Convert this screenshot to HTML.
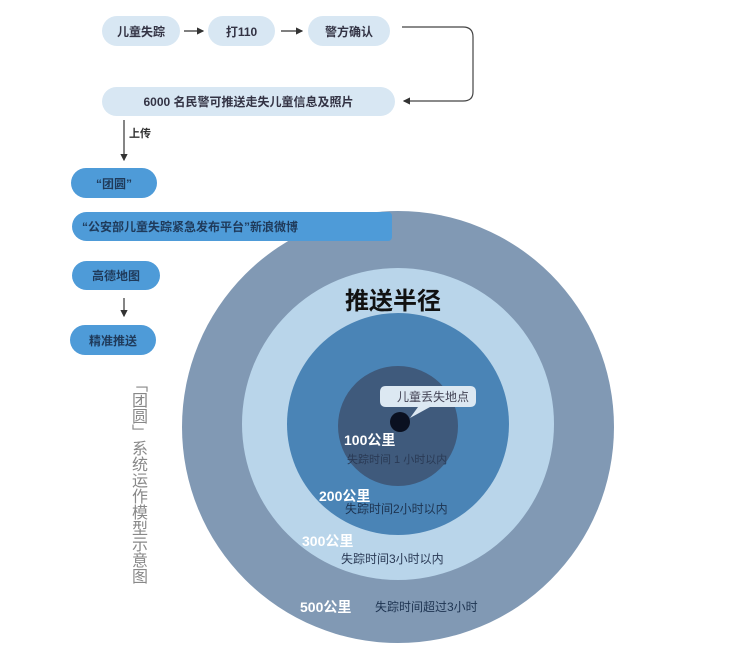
<!DOCTYPE html>
<html><head><meta charset="utf-8"><style>
body{margin:0;width:732px;height:648px;background:#fff;position:relative;overflow:hidden;font-family:"Liberation Sans","Noto Sans CJK SC",sans-serif;}
.b{position:absolute;border-radius:15px;display:flex;align-items:center;justify-content:center;font-size:12px;font-weight:bold;color:#334;}
.l{background:#d8e7f3;}
.d{background:#4e9bd8;color:#1f3a5a;}
.t{position:absolute;white-space:nowrap;font-weight:bold;}
</style></head><body>
<svg width="732" height="648" style="position:absolute;left:0;top:0">
<defs><marker id="a" markerWidth="6" markerHeight="6" refX="5" refY="3" orient="auto"><path d="M0,0L6,3L0,6z" fill="#333"/></marker></defs>
<circle cx="398" cy="427" r="216" fill="#8199b4"/>
<circle cx="398" cy="424" r="156" fill="#b9d5ea"/>
<circle cx="398" cy="424" r="111" fill="#4a84b6"/>
<circle cx="398" cy="426" r="60" fill="#3f5a7c"/>
<circle cx="400" cy="422" r="10" fill="#0a1020"/>
<line x1="184" y1="31" x2="203" y2="31" stroke="#333" stroke-width="1.2" marker-end="url(#a)"/>
<line x1="281" y1="31" x2="302" y2="31" stroke="#333" stroke-width="1.2" marker-end="url(#a)"/>
<path d="M402,27H463Q473,27 473,37V92Q473,101 463,101H404" fill="none" stroke="#444" stroke-width="1.2" marker-end="url(#a)"/>
<line x1="124" y1="120" x2="124" y2="160" stroke="#333" stroke-width="1.2" marker-end="url(#a)"/>
<line x1="124" y1="298" x2="124" y2="316" stroke="#333" stroke-width="1.2" marker-end="url(#a)"/>
<path d="M386,386H470Q476,386 476,392V401Q476,407 470,407H430L410,418L418,407H386Q380,407 380,401V392Q380,386 386,386Z" fill="#dce8f2"/>
</svg>
<div class="b l" style="left:102px;top:16px;width:78px;height:30px">儿童失踪</div>
<div class="b l" style="left:208px;top:16px;width:67px;height:30px">打110</div>
<div class="b l" style="left:308px;top:16px;width:82px;height:30px">警方确认</div>
<div class="b l" style="left:102px;top:87px;width:293px;height:29px">6000 名民警可推送走失儿童信息及照片</div>
<div class="t" style="left:129px;top:125px;font-size:11px;color:#333">上传</div>
<div class="b d" style="left:71px;top:168px;width:86px;height:30px">“团圆”</div>
<div class="b d" style="left:72px;top:212px;width:320px;height:29px;justify-content:flex-start;padding-left:10px;box-sizing:border-box;border-radius:15px 4px 4px 15px">“公安部儿童失踪紧急发布平台”新浪微博</div>
<div class="b d" style="left:72px;top:261px;width:88px;height:29px">高德地图</div>
<div class="b d" style="left:70px;top:325px;width:86px;height:30px">精准推送</div>
<div class="t" style="left:127px;top:376px;writing-mode:vertical-rl;font-size:16px;line-height:20px;color:#888;font-weight:normal">「团圆」系统运作模型示意图</div>
<div class="t" style="left:345px;top:281px;font-size:24px;color:#111">推送半径</div>
<div class="t" style="left:397px;top:388px;font-size:12px;color:#445;font-weight:normal">儿童丢失地点</div>
<div class="t" style="left:344px;top:430px;font-size:14px;color:#fff">100公里</div>
<div class="t" style="left:347px;top:451px;font-size:11px;color:#2a3a55;font-weight:normal">失踪时间 1 小时以内</div>
<div class="t" style="left:319px;top:486px;font-size:14px;color:#fff">200公里</div>
<div class="t" style="left:345px;top:500px;font-size:12px;color:#1d3350;font-weight:normal">失踪时间2小时以内</div>
<div class="t" style="left:302px;top:531px;font-size:14px;color:#fff">300公里</div>
<div class="t" style="left:341px;top:550px;font-size:12px;color:#2a3a55;font-weight:normal">失踪时间3小时以内</div>
<div class="t" style="left:300px;top:597px;font-size:14px;color:#fff">500公里</div>
<div class="t" style="left:375px;top:598px;font-size:12px;color:#1d3350;font-weight:normal">失踪时间超过3小时</div>
</body></html>
